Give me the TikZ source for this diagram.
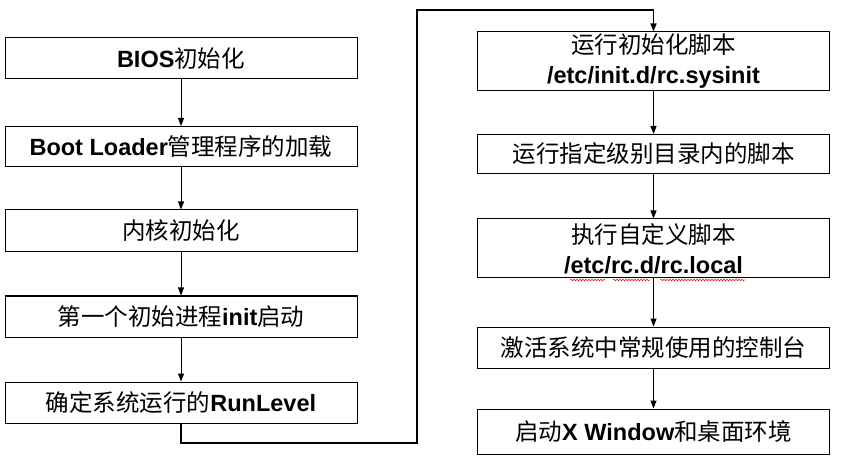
\documentclass[tikz,border=0pt]{standalone}
\usepackage{fontspec}
\setmainfont{Liberation Sans}
\newfontfamily\cjk{Noto Sans CJK SC}
\usetikzlibrary{arrows.meta,decorations.pathmorphing}
\newcommand{\zh}[1]{{\cjk #1}}

\begin{document}
\begin{tikzpicture}[x=1pt,y=-1pt,
  stage/.style={draw,line width=1pt,minimum width=352pt,inner sep=0pt,align=center,
    font=\fontsize{23.5}{30}\selectfont},
  flow/.style={line width=1pt,-{Triangle[length=8pt,width=6pt]}},
  typo/.style={red,line width=0.5pt,decorate,decoration={snake,amplitude=0.8pt,segment length=3pt}}]
\useasboundingbox (0,0) rectangle (843,470);

% left column
\node[stage,minimum height=41pt] (bios) at (181,58.5) {\textbf{BIOS}\zh{初始化}};
\node[stage,minimum height=40pt] (loader) at (181,146.5) {\textbf{Boot Loader}\zh{管理程序的加载}};
\node[stage,minimum height=42pt] (kernel) at (181,231) {\zh{内核初始化}};
\node[stage,minimum height=41pt] (init) at (181,316.5) {\zh{第一个初始进程}\textbf{init}\zh{启动}};
\node[stage,minimum height=41pt] (level) at (181,402.5) {\zh{确定系统运行的}\textbf{RunLevel}};

% right column
\node[stage,minimum height=59pt] (sysinit) at (653.5,61.5) {\zh{运行初始化脚本}\\\textbf{/etc/init.d/rc.sysinit}};
\node[stage,minimum height=39pt] (rcdir) at (653.5,154) {\zh{运行指定级别目录内的脚本}};
\node[stage,minimum height=59pt] (local) at (653.5,248.5) {\zh{执行自定义脚本}\\\textbf{/etc/rc.d/rc.local}};
\node[stage,minimum height=41pt] (console) at (653.5,347.5) {\zh{激活系统中常规使用的控制台}};
\node[stage,minimum height=45pt] (xwin) at (653.5,431.5) {\zh{启动}\textbf{X Window}\zh{和桌面环境}};

\draw[flow] (bios) -- (loader);
\draw[flow] (loader) -- (kernel);
\draw[flow] (kernel) -- (init);
\draw[flow] (init) -- (level);

% jump over to the right column
\coordinate (low) at (417,443);
\coordinate (high) at (417,10);
\draw[flow,line width=1.4pt] (level.south) |- (low) -- (high) -| (sysinit.north);

\draw[flow] (sysinit) -- (rcdir);
\draw[flow] (rcdir) -- (local);
\draw[flow] (local) -- (console);
\draw[flow] (console) -- (xwin);

%\draw[typo] (570,280) -- (605,280);
\draw[typo] (570,280) -- (605,280);
\draw[typo] (613,280) -- (650,280);
\draw[typo] (660,280) -- (745,280);
\end{tikzpicture}
\end{document}
